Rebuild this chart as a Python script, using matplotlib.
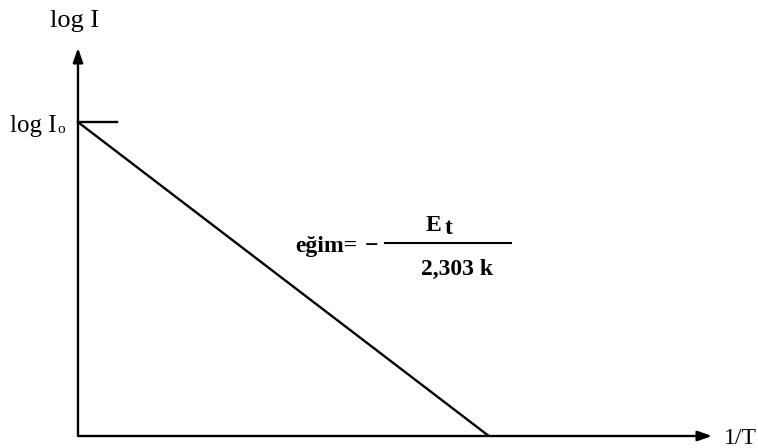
import matplotlib
matplotlib.use("Agg")
import matplotlib.pyplot as plt
from matplotlib.lines import Line2D

# Arrhenius-type plot: log I against 1/T (arbitrary units)
inv_T = [0.0, 0.648]
log_I = [0.809, 0.0]
tick_len = 0.062

W, H = 758, 448
fig = plt.figure(figsize=(W / 100, H / 100), dpi=100)
fig.patch.set_facecolor("white")

def fx(px):
    return px / W

def fy(py):
    return 1 - py / H

x0, y0, x1, y1 = 78, 436, 712, 48
ax = fig.add_axes([fx(x0), fy(y0), fx(x1) - fx(x0), fy(y1) - fy(y0)])
ax.set_xlim(0, 1)
ax.set_ylim(0, 1)
ax.axis("off")

serif = "Liberation Serif"
lw = 1.7

# axes with arrow heads
arrow = dict(arrowstyle="-|>,head_length=0.85,head_width=0.3", color="black",
             lw=lw, mutation_scale=10, shrinkA=0, shrinkB=0)
ax.annotate("", xy=(1, 0), xytext=(0, 0), arrowprops=arrow, annotation_clip=False)
ax.annotate("", xy=(0, 1), xytext=(0, 0), arrowprops=arrow, annotation_clip=False)

# straight line and intercept tick
ax.plot(inv_T, log_I, color="black", lw=lw, solid_capstyle="butt", clip_on=False)
ax.plot([0, tick_len], [log_I[0], log_I[0]], color="black", lw=lw, clip_on=False)

# axis labels
fig.text(fx(50), fy(27), "log I", family=serif, fontsize=19, ha="left", va="baseline")
fig.text(fx(10), fy(132), "log I", family=serif, fontsize=18, ha="left", va="baseline")
fig.text(fx(57), fy(133), "o", family=serif, fontsize=11, ha="left", va="baseline")
fig.text(fx(724), fy(444), "1/T", family=serif, fontsize=17, ha="left", va="baseline")

# slope annotation
fs = 17
fig.text(fx(295), fy(252), "eğim=", family=serif, fontsize=fs, weight="bold",
         ha="left", va="baseline")
fig.text(fx(372), fy(252), "\u2212", family=serif, fontsize=fs, weight="bold",
         ha="center", va="baseline")
fig.add_artist(Line2D([fx(385), fx(511)], [fy(243), fy(243)], color="black", lw=1.5))
fig.text(fx(426), fy(231), "E", family=serif, fontsize=fs, weight="bold",
         ha="left", va="baseline")
fig.text(fx(445), fy(234), "t", family=serif, fontsize=fs, weight="bold",
         ha="left", va="baseline")
fig.text(fx(457), fy(275), "2,303 k", family=serif, fontsize=fs, weight="bold",
         ha="center", va="baseline")

fig.savefig("out.png", dpi=100, facecolor="white")
